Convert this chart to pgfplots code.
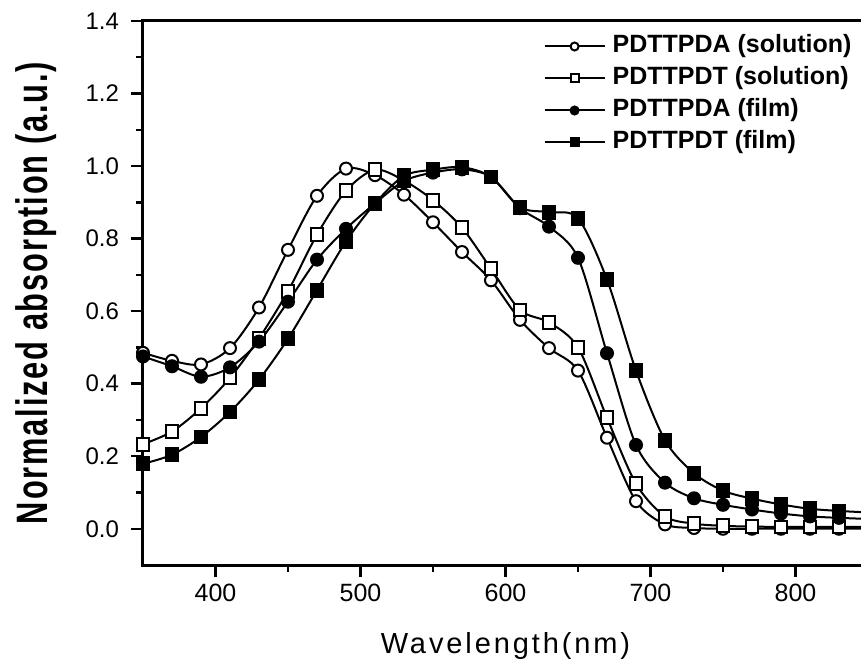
\documentclass[border=0pt]{standalone}
\usepackage{fontspec}
\setmainfont{Liberation Sans}
\usepackage{pgfplots}
\pgfplotsset{compat=1.18}
\usepackage{graphicx}

% spectra, sampled every 20 nm
\pgfplotstableread{
x     a      b      c      d
350 0.485 0.233 0.475 0.179
370 0.463 0.268 0.448 0.204
390 0.453 0.332 0.419 0.253
410 0.498 0.416 0.445 0.322
430 0.610 0.525 0.516 0.411
450 0.769 0.655 0.626 0.524
470 0.918 0.811 0.742 0.658
490 0.993 0.932 0.827 0.792
510 0.975 0.990 0.897 0.897
530 0.921 0.960 0.959 0.973
550 0.845 0.906 0.982 0.990
570 0.763 0.830 0.991 0.997
590 0.685 0.717 0.970 0.970
610 0.576 0.603 0.884 0.886
630 0.498 0.569 0.833 0.873
650 0.436 0.500 0.747 0.856
670 0.251 0.306 0.484 0.687
690 0.076 0.124 0.231 0.436
710 0.012 0.034 0.127 0.244
730 0.002 0.014 0.084 0.153
750 0.000 0.008 0.066 0.105
770 0.000 0.006 0.053 0.083
790 0.000 0.005 0.042 0.067
810 0.000 0.005 0.034 0.055
830 0.000 0.005 0.030 0.049
850 0.000 0.005 0.027 0.045
}\spectra

\begin{document}
\begin{tikzpicture}
\path[use as bounding box] (-71.5pt,-52pt) rectangle (359pt,282.5pt);
\begin{axis}[
    at={(0,0)}, anchor=south west,
    scale only axis,
    width=362.5pt, height=272pt,
    xmin=350, xmax=850,
    ymin=-0.1, ymax=1.4,
    xtick={400,500,...,800},
    ytick={0,0.2,...,1.4},
    minor x tick num=1,
    minor y tick num=1,
    tick pos=left,
    tick align=outside,
    major tick length=6pt,
    minor tick length=3.5pt,
    axis line style={line width=1.5pt},
    tick style={line width=1.2pt, black},
    /pgf/number format/assume math mode=true,
    yticklabel style={/pgf/number format/fixed, /pgf/number format/fixed zerofill,
        /pgf/number format/precision=1, font=\fontsize{12}{13}\selectfont, xshift=-2.5pt},
    xticklabel style={font=\fontsize{12.5}{14}\selectfont},
    xlabel={Wavelength(nm)},
    ylabel={\scalebox{0.7}[1]{Normalized absorption (a.u.)}},
    xlabel style={at={(axis description cs:0.5,0)}, anchor=base, yshift=-44pt,
        font=\fontsize{14.5}{16}\selectfont\addfontfeature{LetterSpace=10}},
    ylabel style={at={(axis description cs:-0.148,0.5)}, anchor=center,
        font=\fontsize{22}{24}\selectfont\bfseries\addfontfeature{LetterSpace=6}},
    legend style={draw=none, fill=none, at={(0.552,0.975)}, anchor=north west,
        inner sep=0pt, row sep=4.5pt,
        nodes={inner sep=0pt, text height=9pt, text depth=2.5pt},
        font=\fontsize{12.5}{14}\selectfont\bfseries},
    legend cell align=left,
    legend image code/.code={\draw[mark repeat=2,mark phase=2,mark size=2pt,#1]
        plot coordinates {(0pt,0pt) (15pt,0pt) (30pt,0pt)};},
    /tikz/every odd column/.style={column sep=3.5pt},
    every axis plot/.append style={black, line width=1pt, smooth,
        mark options={line width=0.5pt, solid}},
]
\addplot[mark=*, mark size=3pt, mark options={fill=white}] table[x=x,y=a] {\spectra};
\addlegendentry{PDTTPDA (solution)}
\addplot[mark=square*, mark size=3.2pt, mark options={fill=white}] table[x=x,y=b] {\spectra};
\addlegendentry{PDTTPDT (solution)}
\addplot[mark=*, mark size=3pt, mark options={fill=black}] table[x=x,y=c] {\spectra};
\addlegendentry{PDTTPDA (film)}
\addplot[mark=square*, mark size=3.2pt, mark options={fill=black}] table[x=x,y=d] {\spectra};
\addlegendentry{PDTTPDT (film)}
\end{axis}
\end{tikzpicture}
\end{document}
